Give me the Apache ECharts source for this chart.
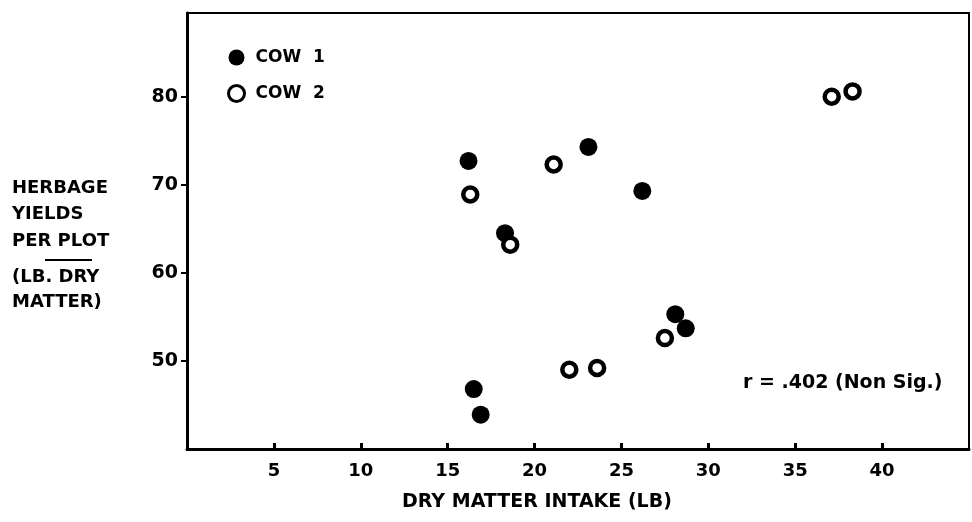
<!DOCTYPE html>
<html><head><meta charset="utf-8">
<script src="https://cdn.jsdelivr.net/npm/echarts@6/dist/echarts.min.js"></script>
<style>html,body{margin:0;padding:0;background:#fff}#c{width:972px;height:522px}</style>
</head><body><div id="c"></div>
<script>
const seriesNames = ['COW  1', 'COW  2'];
const cow1X = [16.2, 23.1, 26.2, 18.3, 16.5, 16.9, 28.1, 28.7];
const cow1Y = [72.7, 74.3, 69.3, 64.5, 46.8, 43.9, 55.3, 53.7];
const cow2X = [16.3, 21.1, 18.6, 22.0, 23.6, 27.5, 37.1, 38.3];
const cow2Y = [68.9, 72.3, 63.2, 49.0, 49.2, 52.6, 80.0, 80.6];
const xTicks = [5, 10, 15, 20, 25, 30, 35, 40];
const yTicks = [50, 60, 70, 80];
const xTitle = 'DRY MATTER INTAKE (LB)';
const yTitleLines = ['HERBAGE', 'YIELDS', 'PER PLOT', '(LB. DRY', 'MATTER)'];
const note = 'r = .402 (Non Sig.)';

const FONT = '"DejaVu Sans", sans-serif';
const pairs = (xs, ys) => xs.map((x, i) => [x, ys[i]]);
const yLineY = [190, 216, 243, 279, 304];

const chart = echarts.init(document.getElementById('c'));
chart.setOption({
  animation: false,
  backgroundColor: '#fff',
  grid: { left: 187, top: 13, width: 782, height: 436, show: true, borderColor: '#000', borderWidth: 2 },
  legend: {
    orient: 'vertical', left: 222, top: 44, itemWidth: 16, itemHeight: 16, itemGap: 18,
    textStyle: { fontFamily: FONT, fontWeight: 'bold', fontSize: 17, color: '#000', padding: [0, 0, 0, 6] },
    data: [
      { name: seriesNames[0], icon: 'circle', itemStyle: { color: '#000' } },
      { name: seriesNames[1], icon: 'circle', itemStyle: { color: '#fff', borderColor: '#000', borderWidth: 3 } }
    ]
  },
  xAxis: {
    type: 'value', min: 0, max: 45,
    axisLine: { lineStyle: { color: '#000', width: 3 } },
    axisTick: { show: true, inside: true, length: 6, customValues: xTicks, lineStyle: { color: '#000', width: 3 } },
    axisLabel: { customValues: xTicks, margin: 13, fontFamily: FONT, fontWeight: 'bold', fontSize: 18, color: '#000' },
    splitLine: { show: false }
  },
  yAxis: {
    type: 'value', min: 40, max: 89.5,
    axisLine: { lineStyle: { color: '#000', width: 3 } },
    axisTick: { show: true, inside: false, length: 6, customValues: yTicks, lineStyle: { color: '#000', width: 2 } },
    axisLabel: { customValues: yTicks, margin: 9, fontFamily: FONT, fontWeight: 'bold', fontSize: 19, color: '#000' },
    splitLine: { show: false }
  },
  series: [
    { name: seriesNames[0], type: 'scatter', symbol: 'circle', symbolSize: 18,
      itemStyle: { color: '#000', opacity: 1 }, data: pairs(cow1X, cow1Y), z: 3 },
    { name: seriesNames[1], type: 'scatter', symbol: 'circle', symbolSize: 14,
      itemStyle: { color: '#fff', borderColor: '#000', borderWidth: 4.5, opacity: 1 }, data: pairs(cow2X, cow2Y), z: 4 }
  ],
  graphic: [
    ...yTitleLines.map((t, i) => ({
      type: 'text', left: 12, top: yLineY[i] - 11,
      style: { text: t, font: 'bold 18px ' + FONT, fill: '#000' }
    })),
    { type: 'line', shape: { x1: 45, y1: 260, x2: 92, y2: 260 }, style: { stroke: '#000', lineWidth: 2 } },
    { type: 'text', left: 402, top: 493,
      style: { text: xTitle, font: 'bold 19px ' + FONT, fill: '#000' } },
    { type: 'text', left: 743, top: 374,
      style: { text: note, font: 'bold 19px ' + FONT, fill: '#000' } }
  ]
});
</script>
</body></html>
